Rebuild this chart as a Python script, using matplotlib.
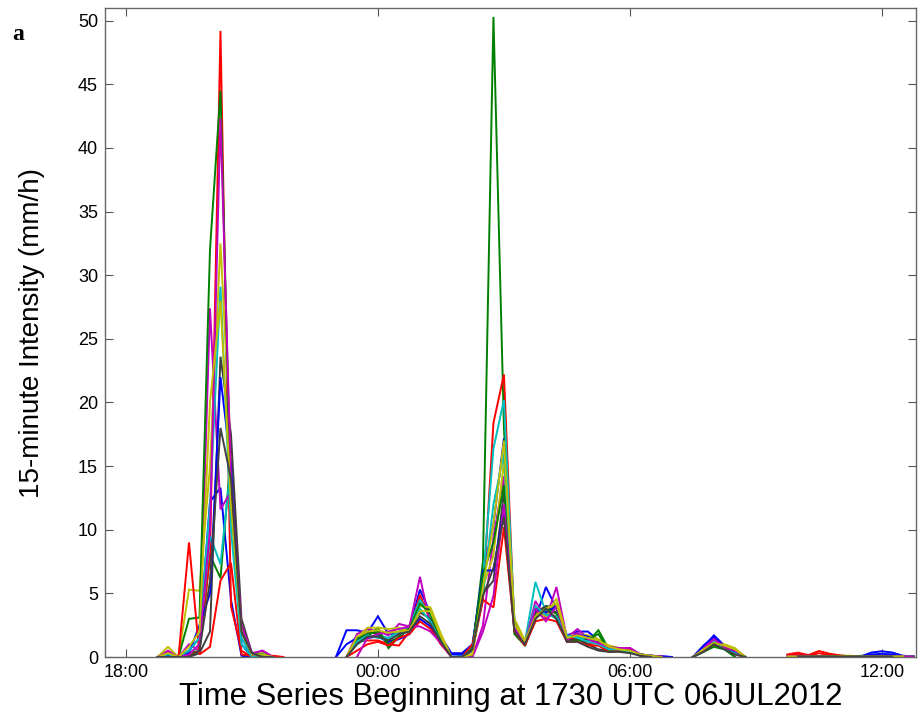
import numpy as np
import matplotlib
matplotlib.use("Agg")
import matplotlib.pyplot as plt

nan = np.nan
# 15-minute steps starting 17:30 UTC 06JUL2012 (78 steps)
n_steps = 78
step_hours = 0.25
tick_hours = [0.5, 6.5, 12.5, 18.5]
tick_labels = ["18:00", "00:00", "06:00", "12:00"]
y_ticks = [0, 5, 10, 15, 20, 25, 30, 35, 40, 45, 50]

# MATLAB default colour order (two passes)
colors = ["#0000FF", "#008000", "#FF0000", "#00BFBF", "#BF00BF", "#BFBF00", "#404040",
          "#0000FF", "#008000", "#FF0000", "#00BFBF", "#BF00BF", "#BFBF00", "#404040"]

# event 1: steps 5..17
ev1 = [
    [0, 0.2, 0, 0.5, 1.5, 12.2, 13.3, 4.5, 0.1, 0, 0, 0, nan],   # B1
    [0, 0.1, 0, 0.3, 0.5, 8.0, 6.2, 16.0, 2.0, 0, 0.3, 0, nan],  # G1
    [0, 0, 0, 0.1, 0.5, 8.0, 49.2, 4.0, 0.5, 0, 0.2, 0, nan],    # R1
    [0, 0.3, 0, 0.2, 1.0, 9.5, 7.3, 15.1, 1.5, 0, 0.3, 0, nan],  # C1
    [0, 0.5, 0, 1.0, 0.5, 27.4, 11.6, 13.0, 2.0, 0.2, 0.5, 0, nan],  # M1
    [0, 0.8, 0, 5.3, 5.2, 15.0, 32.5, 16.0, 2.5, 0.2, 0.3, 0, nan],  # Y1
    [0, 0, 0, 0, 0.3, 2.0, 23.6, 17.5, 3.0, 0.3, 0, 0, nan],     # K1
    [0, 0.1, 0, 0.3, 2.5, 5.0, 22.0, 15.0, 1.0, 0, 0.2, 0, nan], # B2
    [0, 0, 0, 3.0, 3.1, 32.0, 44.5, 12.0, 2.0, 0.3, 0.2, 0, nan],# G2
    [0, 0, 0, 9.0, 0.2, 0.8, 6.0, 7.4, 0.2, 0.1, 0.1, 0.1, 0],   # R2
    [0, 0.2, 0, 0.5, 1.5, 12.0, 29.1, 10.0, 1.0, 0, 0.2, 0, nan],# C2
    [0, 0.4, 0, 0.2, 1.0, 10.0, 42.3, 14.0, 2.5, 0.3, 0.5, 0, nan],  # M2
    [0, 0.3, 0, 0.8, 2.0, 20.0, 28.0, 12.0, 2.0, 0.2, 0.2, 0, nan],  # Y2
    [0, 0, 0, 0, 0.5, 6.0, 18.0, 14.0, 2.0, 0.3, 0, 0, nan],     # K2
]

# event 2: steps 22..54
ev2 = [
    [0, 2.1, 2.1, 1.9, 3.2, 1.8, 1.9, 2.2, 5.3, 3.4, 1.6, 0.3, 0.3, 1.0, 6.6, 10.4, 17.2, 2.8, 1.2, 3.0, 5.5, 3.8, 1.7, 2.0, 2.0, 1.3, 0.7, 0.7, 0.6, 0.2, 0.1, 0.05, 0],
    [nan, 0, 1.2, 1.6, 2.3, 0.7, 1.6, 2.5, 4.5, 3.6, 1.5, 0, 0, 0.5, 7.5, 50.3, 18.0, 2.0, 1.0, 3.3, 4.0, 3.9, 1.5, 1.7, 1.2, 2.1, 0.6, 0.6, 0.5, 0.2, 0.1, 0, nan],
    [nan, 0, 1.2, 1.3, 1.3, 1.0, 0.9, 2.0, 4.9, 2.8, 1.2, 0, 0, 0.5, 4.5, 18.4, 22.2, 2.3, 0.9, 3.2, 3.4, 3.2, 1.4, 1.5, 1.0, 1.1, 0.5, 0.6, 0.7, 0.1, 0, nan, nan],
    [nan, 0, 1.0, 1.5, 1.7, 1.5, 2.0, 2.4, 4.5, 3.2, 1.4, 0, 0.1, 0.8, 6.0, 16.4, 20.2, 2.6, 1.2, 5.9, 3.5, 3.0, 1.6, 1.6, 1.3, 1.2, 0.8, 0.6, 0.5, 0.2, 0.1, 0, nan],
    [nan, 0, 1.8, 2.2, 2.0, 1.7, 2.6, 2.4, 6.3, 2.5, 1.3, 0, 0, 0, 2.5, 9.4, 14.2, 2.5, 1.1, 4.4, 3.0, 5.5, 1.5, 2.2, 1.5, 1.0, 0.7, 0.6, 0.7, 0.2, 0.1, 0, nan],
    [nan, 0, 1.5, 2.3, 2.3, 2.2, 2.3, 2.0, 4.0, 3.9, 1.8, 0, 0, 0.1, 5.5, 8.0, 15.4, 3.0, 1.3, 3.5, 3.2, 4.6, 1.6, 1.8, 1.7, 1.4, 0.9, 0.7, 0.6, 0.2, 0.1, 0.05, nan],
    [nan, 0, 1.3, 2.0, 1.8, 1.2, 1.5, 2.3, 3.5, 3.0, 1.3, 0, 0, 0.5, 5.0, 6.0, 13.0, 2.2, 1.0, 3.5, 4.0, 3.5, 1.3, 1.4, 1.0, 0.6, 0.5, 0.5, 0.4, 0.1, 0.05, 0, nan],
    [0, 1.0, 1.5, 1.5, 1.6, 1.2, 1.4, 1.8, 3.0, 2.4, 1.0, 0.2, 0.2, 0.8, 6.8, 6.8, 11.7, 2.0, 1.0, 3.8, 3.5, 4.0, 1.4, 1.8, 1.6, 1.2, 0.6, 0.6, 0.5, 0.2, 0.1, 0.05, 0],
    [nan, 0, 1.4, 1.8, 2.0, 1.0, 1.6, 2.2, 4.2, 3.4, 1.3, 0, 0, 0.8, 6.5, 9.0, 13.5, 1.8, 0.9, 3.0, 3.8, 3.4, 1.2, 1.3, 1.4, 1.8, 0.5, 0.5, 0.4, 0.1, 0, nan, nan],
    [nan, 0, 0.5, 1.0, 1.2, 0.9, 1.5, 1.8, 2.8, 2.2, 1.0, 0, 0, 1.0, 4.5, 3.9, 10.2, 2.0, 0.9, 2.8, 3.0, 2.8, 1.2, 1.2, 0.9, 0.9, 0.4, 0.5, 0.6, 0.1, 0, nan, nan],
    [nan, 0, 1.2, 1.7, 1.5, 1.4, 1.8, 2.0, 3.8, 2.8, 1.2, 0, 0, 0.6, 5.0, 12.0, 16.0, 2.4, 1.1, 4.0, 3.3, 3.2, 1.7, 1.5, 1.2, 1.0, 0.6, 0.6, 0.4, 0.2, 0.1, 0, nan],
    [nan, nan, 0, 1.5, 1.8, 2.0, 2.2, 2.4, 2.4, 2.0, 1.1, 0, 0, 0, 2.0, 4.8, 12.0, 2.3, 1.0, 3.8, 2.8, 4.0, 1.3, 1.9, 1.4, 1.1, 0.8, 0.7, 0.7, 0.2, 0.1, 0.05, nan],
    [nan, 0, 1.6, 2.0, 2.1, 1.9, 2.0, 2.1, 3.6, 3.6, 1.6, 0, 0, 0.2, 5.5, 10.5, 17.0, 2.6, 1.2, 3.2, 3.8, 4.2, 1.5, 1.7, 1.5, 1.3, 0.8, 0.6, 0.5, 0.2, 0.1, 0, nan],
    [nan, 0, 1.0, 1.6, 1.6, 1.3, 1.8, 2.0, 3.2, 2.6, 1.2, 0, 0, 0.6, 4.8, 7.0, 11.0, 2.0, 1.0, 3.0, 3.8, 3.0, 1.2, 1.2, 0.8, 0.5, 0.4, 0.4, 0.3, 0.1, 0, nan, nan],
]

# event 3: steps 55..61
ev3 = [
    [nan, 0, 0.8, 1.7, 0.9, 0.5, 0],
    [nan, 0, 0.5, 0.9, 0.8, 0, nan],
    [nan, 0, 0.6, 1.2, 0.8, 0.3, 0],
    [nan, 0, 0.6, 1.3, 0.7, 0.4, 0],
    [nan, 0, 0.7, 1.5, 0.9, 0.6, 0],
    [nan, 0, 0.5, 1.2, 1.0, 0.7, 0],
    [nan, 0, 0.5, 1.1, 0.7, 0.3, 0],
    [nan, 0, 0.9, 1.6, 0.8, 0.4, 0],
    [nan, 0, 0.4, 0.8, 0.6, 0, nan],
    [nan, 0, 0.5, 1.0, 0.7, 0.2, 0],
    [nan, 0, 0.6, 1.2, 0.6, 0.3, 0],
    [nan, 0, 0.6, 1.4, 0.8, 0.5, 0],
    [nan, 0, 0.6, 1.1, 0.9, 0.6, 0],
    [nan, 0, 0.4, 1.0, 0.6, 0.2, 0],
]

# event 4: steps 64..77
ev4 = [
    [nan, nan, 0, 0.05, 0.05, 0.05, 0.05, 0.05, 0.05, 0.35, 0.45, 0.35, 0.1, 0.05],
    [nan, 0.05, 0.05, 0.05, 0.05, 0.05, 0.05, 0.05, 0.05, 0.05, 0.05, 0.05, 0.05, 0.05],
    [nan, 0.2, 0.34, 0.15, 0.47, 0.26, 0.13, 0.05, 0.05, 0.05, 0.05, 0.05, 0.05, 0.05],
    [nan, 0.05, 0.05, 0.05, 0.05, 0.1, 0.05, 0.05, 0.1, 0.05, 0.05, 0.05, 0.05, 0.05],
    [nan, 0.1, 0.12, 0.1, 0.08, 0.05, 0.05, 0.05, 0.05, 0.1, 0.1, 0.05, 0.05, 0.05],
    [nan, 0.05, 0.05, 0.05, 0.05, 0.05, 0.1, 0.1, 0.05, 0.05, 0.05, 0.05, 0.05, 0.05],
    [nan, nan, 0.05, 0.05, 0.05, 0.05, 0.05, 0.05, 0.05, 0.05, 0.05, 0.05, 0.05, nan],
    [nan, nan, 0.05, 0.05, 0.05, 0.05, 0.05, 0.05, 0.05, 0.2, 0.25, 0.2, 0.05, nan],
    [nan, 0.05, 0.05, 0.05, 0.05, 0.05, 0.05, 0.05, 0.05, 0.05, 0.05, 0.05, 0.05, 0.05],
    [nan, 0.15, 0.2, 0.1, 0.3, 0.15, 0.1, 0.05, 0.05, 0.05, 0.05, 0.05, 0.05, nan],
    [nan, 0.05, 0.05, 0.05, 0.05, 0.05, 0.05, 0.08, 0.08, 0.08, 0.05, 0.05, 0.05, 0.05],
    [nan, 0.08, 0.1, 0.08, 0.05, 0.05, 0.05, 0.05, 0.05, 0.05, 0.05, 0.05, 0.05, 0.05],
    [nan, 0.05, 0.05, 0.05, 0.05, 0.05, 0.08, 0.08, 0.05, 0.05, 0.05, 0.05, 0.05, nan],
    [nan, nan, 0.05, 0.05, 0.05, 0.05, 0.05, 0.05, 0.05, 0.05, 0.05, 0.05, nan, nan],
]

ev_starts = [5, 22, 55, 64]

hours = np.arange(n_steps) * step_hours

fig = plt.figure(figsize=(9.21, 7.21), dpi=100)
ax = fig.add_axes([105 / 921, 1 - 657 / 721, 810.5 / 921, 649 / 721])

for k, col in enumerate(colors):
    y = np.full(n_steps, np.nan)
    for start, ev in zip(ev_starts, (ev1, ev2, ev3, ev4)):
        seg = np.asarray(ev[k], dtype=float)
        y[start:start + len(seg)] = seg
    ax.plot(hours, y, color=col, lw=1.4, solid_joinstyle="miter")

ax.set_xlim(0, 19.3)
ax.set_ylim(0, 51)
ax.set_xticks(tick_hours)
ax.set_xticklabels(tick_labels)
ax.set_yticks(y_ticks)

font = "Liberation Sans"
for lab in ax.get_xticklabels() + ax.get_yticklabels():
    lab.set_fontfamily(font)
    lab.set_fontsize(13)

ax.tick_params(direction="in", length=6, width=0.8, color="#555555",
               top=True, right=True, pad=5)
for sp in ax.spines.values():
    sp.set_color("#666666")
    sp.set_linewidth(1.0)

ax.set_xlabel("Time Series Beginning at 1730 UTC 06JUL2012", fontfamily=font,
              fontsize=22.3, labelpad=1)
ax.set_ylabel("15-minute Intensity (mm/h)", fontfamily=font, fontsize=20, labelpad=24)

fig.text(12 / 921, 1 - 40 / 721, "a", fontfamily="Liberation Serif", fontweight="bold",
         fontsize=17)

fig.savefig("out.png", dpi=100)
